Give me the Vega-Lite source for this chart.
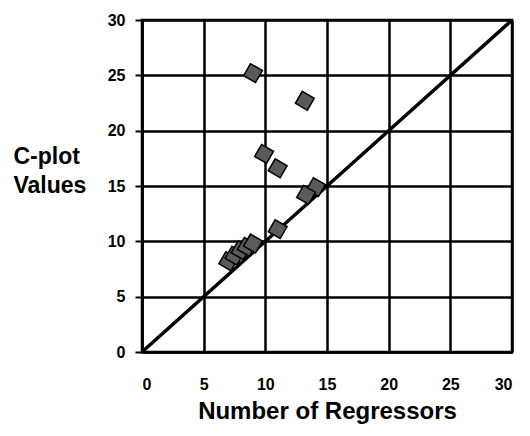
{
  "$schema": "https://vega.github.io/schema/vega-lite/v6.json",
  "width": 370,
  "height": 332,
  "autosize": "none",
  "padding": {"left": 142, "top": 20, "right": 18, "bottom": 84},
  "background": "white",
  "config": {
    "view": {"stroke": "black", "strokeWidth": 2.5},
    "font": "Liberation Sans"
  },
  "datasets": {
    "pts": [
      {"p": 9.0, "cp": 25.2},
      {"p": 13.2, "cp": 22.7},
      {"p": 9.9, "cp": 17.9},
      {"p": 11.0, "cp": 16.6},
      {"p": 14.1, "cp": 14.9},
      {"p": 13.3, "cp": 14.2},
      {"p": 11.0, "cp": 11.1},
      {"p": 7.0, "cp": 8.2},
      {"p": 7.5, "cp": 8.7},
      {"p": 8.0, "cp": 9.2},
      {"p": 8.5, "cp": 9.5},
      {"p": 9.0, "cp": 9.8}
    ],
    "diag": [
      {"p": 0, "cp": 0},
      {"p": 30, "cp": 30}
    ]
  },
  "layer": [
    {
      "data": {"name": "diag"},
      "mark": {"type": "line", "color": "black", "strokeWidth": 3.5},
      "encoding": {
        "x": {
          "field": "p", "type": "quantitative",
          "scale": {"domain": [0, 30], "nice": false},
          "axis": {
            "values": [0, 5, 10, 15, 20, 25, 30],
            "title": "Number of Regressors",
            "titleFont": "Liberation Sans", "titleFontSize": 24, "titleFontWeight": "bold",
            "titleColor": "black", "titleBaseline": "alphabetic", "titleY": 66,
            "labelFont": "Liberation Sans", "labelFontSize": 16, "labelFontWeight": "bold",
            "labelColor": "black", "labelPadding": 24, "ticks": false,
            "domainColor": "black", "domainWidth": 2.5,
            "gridColor": "black", "gridWidth": 2.5, "gridOpacity": 1
          }
        },
        "y": {
          "field": "cp", "type": "quantitative",
          "scale": {"domain": [0, 30], "nice": false},
          "axis": {
            "values": [0, 5, 10, 15, 20, 25, 30],
            "title": ["C-plot", "Values"],
            "titleFont": "Liberation Sans", "titleFontSize": 23, "titleFontWeight": "bold",
            "titleColor": "black", "titleAngle": 0, "titleAlign": "left",
            "titleBaseline": "alphabetic", "titleX": -129, "titleY": 143, "titleLineHeight": 29,
            "labelFont": "Liberation Sans", "labelFontSize": 16, "labelFontWeight": "bold",
            "labelColor": "black", "labelPadding": 10, "tickSize": 7, "tickColor": "black", "tickWidth": 2,
            "domainColor": "black", "domainWidth": 2.5,
            "gridColor": "black", "gridWidth": 2.5, "gridOpacity": 1
          }
        }
      }
    },
    {
      "data": {"name": "pts"},
      "mark": {"type": "point", "shape": "square", "angle": 30, "size": 190, "filled": true, "fill": "#5a5a5a", "stroke": "black", "strokeWidth": 1.5, "opacity": 1},
      "encoding": {
        "x": {"field": "p", "type": "quantitative"},
        "y": {"field": "cp", "type": "quantitative"}
      }
    }
  ]
}
